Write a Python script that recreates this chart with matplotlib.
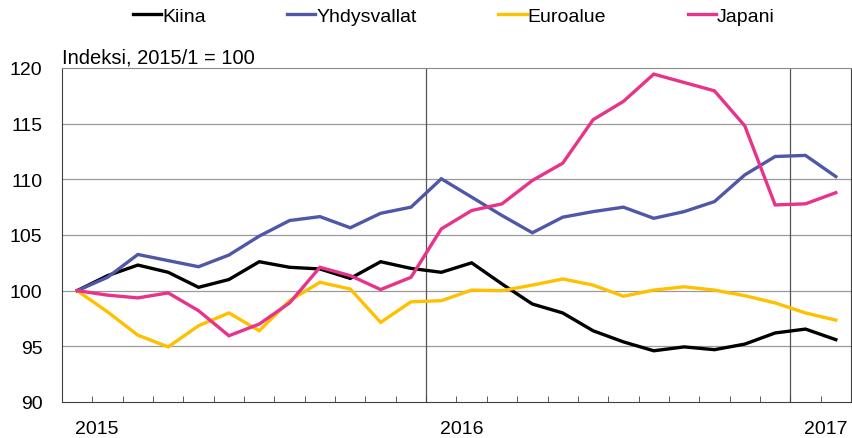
import matplotlib
matplotlib.use("Agg")
import matplotlib.pyplot as plt
import numpy as np

# monthly index, 2015/1 .. 2017/2 (2015/1 = 100)
months = ["2015/%d" % m for m in range(1, 13)] + ["2016/%d" % m for m in range(1, 13)] + ["2017/1", "2017/2"]
kiina = [100.0, 101.35, 102.3, 101.65, 100.3, 101.0, 102.6, 102.1, 101.95, 101.1, 102.6, 102.0,
         101.65, 102.5, 100.6, 98.8, 98.0, 96.4, 95.4, 94.6, 94.95, 94.7, 95.2, 96.2, 96.55, 95.6]
yhdysvallat = [100.0, 101.2, 103.25, 102.7, 102.15, 103.2, 104.9, 106.3, 106.65, 105.65, 106.95, 107.5,
               110.05, 108.4, 106.75, 105.2, 106.6, 107.1, 107.5, 106.5, 107.1, 108.0, 110.4, 112.05, 112.15, 110.25]
euroalue = [100.0, 98.1, 96.0, 94.95, 96.85, 98.0, 96.4, 99.1, 100.75, 100.15, 97.15, 99.0,
            99.1, 100.05, 100.0, 100.5, 101.05, 100.5, 99.5, 100.05, 100.35, 100.05, 99.55, 98.9, 98.0, 97.35]
japani = [100.0, 99.6, 99.35, 99.8, 98.2, 95.95, 97.0, 98.9, 102.1, 101.35, 100.1, 101.2,
          105.55, 107.2, 107.8, 109.9, 111.45, 115.35, 117.0, 119.45, 118.7, 117.95, 114.8, 107.7, 107.8, 108.8]
years = ["2015", "2016", "2017"]

series = [("Kiina", kiina, "#000000"),
          ("Yhdysvallat", yhdysvallat, "#4F58A6"),
          ("Euroalue", euroalue, "#FFC000"),
          ("Japani", japani, "#E8338A")]

plt.rcParams["font.family"] = ["Liberation Sans", "DejaVu Sans"]

fig = plt.figure(figsize=(8.53, 4.39), dpi=100)
ax = fig.add_axes([62/853, 1-403/439, (851-62)/853, (403-69)/439])

x = np.arange(len(months))
for name, vals, col in series:
    ax.plot(x, vals, color=col, linewidth=2.4, label=name, solid_joinstyle="miter")

ax.set_xlim(-0.5, len(months) - 0.5)
ax.set_ylim(90, 120)
ax.set_yticks([90, 95, 100, 105, 110, 115, 120])
ax.tick_params(axis="y", length=0, pad=14, labelsize=14)
for yv in [95, 100, 105, 110, 115]:
    ax.axhline(yv, color="#9a9a9a", linewidth=0.9, zorder=0)
# year boundaries
for xb in [11.5, 23.5]:
    ax.axvline(xb, color="#555555", linewidth=0.9, zorder=0)

# month boundary ticks inside, year labels below
ax.set_xticks(np.arange(-0.5, len(months) + 0.5, 1), minor=True)
ax.tick_params(axis="x", which="minor", direction="in", length=4, color="#404040")
ax.set_xticks([0.64, 12.68, 24.66])
ax.set_xticklabels(years)
ax.tick_params(axis="x", which="major", length=0, pad=13, labelsize=14)

for side in ["left", "bottom", "right"]:
    ax.spines[side].set_color("#404040")
ax.spines["top"].set_color("#8a8a8a")

ax.text(0, 1.015, "Indeksi, 2015/1 = 100", transform=ax.transAxes, ha="left", va="baseline", fontsize=14.5)

handles = ax.get_lines()[:4]
fig.legend(handles, [s[0] for s in series], loc="center", bbox_to_anchor=(0.532, 0.961), ncol=4,
           frameon=False, handlelength=1.45, handletextpad=0.05, columnspacing=4.2,
           borderpad=0, prop={"size": 14})

fig.savefig("out.png", dpi=100)
